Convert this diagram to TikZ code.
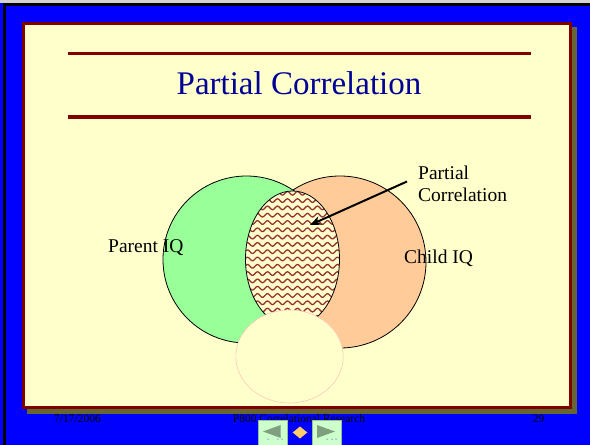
\documentclass[tikz,border=0pt]{standalone}
\usepackage{fontspec}
\setmainfont{Liberation Serif}
\usetikzlibrary{arrows.meta}
\definecolor{slideblue}{HTML}{0000FF}
\definecolor{cream}{HTML}{FFFFCC}
\definecolor{darkred}{HTML}{800000}
\definecolor{shadowolive}{HTML}{666633}
\definecolor{titleblue}{HTML}{000099}
\definecolor{venngreen}{HTML}{99FF99}
\definecolor{vennorange}{HTML}{FFCC99}
\definecolor{wavered}{HTML}{993333}
\definecolor{btngreen}{HTML}{CCFFCC}
\definecolor{btntri}{HTML}{7F9F7F}
\definecolor{diamondc}{HTML}{FFCC66}
\definecolor{paleedge}{HTML}{FFC8B8}
\begin{document}
\begin{tikzpicture}[x=1pt,y=-1pt,
  footer/.style={inner sep=0pt, anchor=base west, font=\fontsize{11.5}{13}\selectfont},
  label/.style={inner sep=0pt, font=\fontsize{19.5}{22.5}\selectfont},
  btn/.style={fill=btngreen, draw=btngreen!75!black, line width=0.4pt, minimum width=29pt, minimum height=25pt, inner sep=0pt},
  vennline/.style={draw=black, line width=0.8pt}]
\useasboundingbox (0,0) rectangle (590,445);
% frame
\fill[slideblue] (0,0) rectangle (590,445);
\fill[gray!35] (0,0) rectangle (590,3.3);
\fill[black] (3.3,3.3) rectangle (590,6);
\fill[black] (3.3,3.3) rectangle (6,445);
% footer
\node[footer] (date) at (54,422) {7/17/2006};
\node[footer] (course) at (232.7,422) {P800 Correlational Research};
\node[footer] (page) at (532.7,422) {29};
% panel
\fill[shadowolive] (27,27) rectangle (577,414);
\draw[darkred, line width=3pt, fill=cream] (23.5,23.5) rectangle (570.5,407.5);
% title
\draw[darkred, line width=3.3pt] (67.7,53.3) -- (530.7,53.3);
\draw[darkred, line width=3.3pt] (67.7,117) -- (530.7,117);
\node[inner sep=0pt, text=titleblue, font=\fontsize{33}{40}\selectfont] (title) at (299,83) {Partial Correlation};
% venn
\draw[vennline, fill=vennorange] (340,262) circle[radius=86];
\draw[vennline, fill=venngreen] (246.5,259.5) circle[radius=83.5];
\begin{scope}
  \clip (292.5,259) ellipse[x radius=47, y radius=68];
  \fill[cream] (240,185) rectangle (345,335);
  \foreach \yy in {186,193.3,...,334}
    \draw[wavered, line width=1.3pt] plot[domain=244:342, samples=100, smooth] (\x, {\yy + 1.8*sin(36*\x)});
\end{scope}
\draw[vennline] (292.5,259) ellipse[x radius=47, y radius=68];
\draw[draw=paleedge, line width=0.6pt, fill=cream] (289.5,356.5) ellipse[x radius=53.7, y radius=46.5];
% labels
\node[label, anchor=base west] (parent) at (108,252) {Parent IQ};
\node[label, anchor=base west] (child) at (404,263) {Child IQ};
\node[label, anchor=north west, align=left] (partial) at (418,165.5) {Partial\\Correlation};
\coordinate (tail) at (407,181.5);
\coordinate (tip) at (310,225);
\draw[line width=2pt, -{Stealth[length=11pt,width=9pt]}] (tail) -- (tip);
% navigation buttons
\node[btn] (prev) at (272.5,433) {};
\node[btn] (next) at (326.3,433) {};
\fill[btntri] (263,431.5) -- (280.7,425) -- (280.7,438) -- cycle;
\fill[btntri] (335,431.5) -- (317,425) -- (317,438) -- cycle;
\fill[diamondc] (300,426.5) -- (307.3,432.5) -- (300,438.5) -- (292.7,432.5) -- cycle;
\foreach \dx in {268,278,282,327,332,336}
  \fill[slideblue] (\dx,439) circle[radius=0.5];
\end{tikzpicture}
\end{document}
